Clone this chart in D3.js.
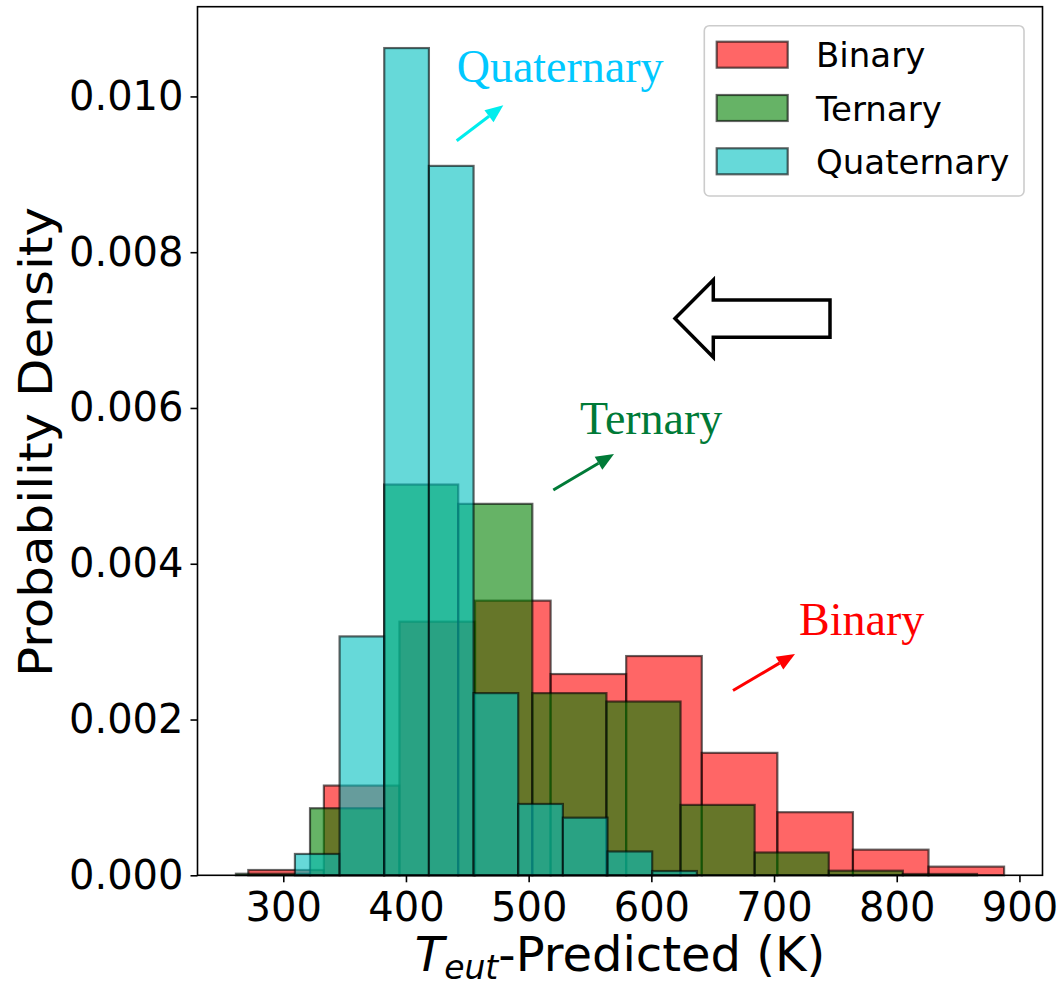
<!DOCTYPE html>
<html>
<head>
<meta charset="utf-8">
<script src="https://cdn.jsdelivr.net/npm/d3@7"></script>
<style>
  body { margin: 0; background: #ffffff; }
  svg { display: block; }
</style>
</head>
<body>
<svg id="chart" width="1059" height="989"></svg>
<script>
// Histogram bin edges (K) and probability densities for each alloy family
const binaryEdges = [271.5, 333.1, 394.7, 456.3, 517.9, 579.5, 641.1, 702.7, 764.3, 825.9, 887.5];
const binaryDensity = [0.000068, 0.001152, 0.003256, 0.003526, 0.002584, 0.002815, 0.001572, 0.00081, 0.000329, 0.000111];

const ternaryEdges = [261.4, 321.8, 382.2, 442.6, 503.0, 563.4, 623.8, 684.2, 744.6, 805.0, 865.4];
const ternaryDensity = [0.00002, 0.000861, 0.005017, 0.004769, 0.002339, 0.002231, 0.000904, 0.000293, 0.000059, 0.000017];

const quaternaryEdges = [309.5, 345.9, 382.3, 418.7, 455.1, 491.5, 527.9, 564.3, 600.7, 637.1];
const quaternaryDensity = [0.000274, 0.003067, 0.010621, 0.009108, 0.002339, 0.000916, 0.00074, 0.000306, 0.000055];

const seriesNames = ["Binary", "Ternary", "Quaternary"];
const xTicks = [300, 400, 500, 600, 700, 800, 900];
const yTicks = [0.000, 0.002, 0.004, 0.006, 0.008, 0.010];

// ---- layout & styling ----
const seriesColors = ["#ff0000", "#008000", "#00bfbf"];
const annotationColors = ["#ff0000", "#007a37", "#00c8ff"];
const arrowColors = ["#ff0000", "#007a37", "#00eded"];
const plot = { left: 197.5, right: 1042.5, top: 6.7, bottom: 875.3 };
const sans = "DejaVu Sans, sans-serif";
const serif = "Liberation Serif, Times New Roman, serif";

const svg = d3.select("#chart");

const allEdges = binaryEdges.concat(ternaryEdges, quaternaryEdges);
const [dMin, dMax] = d3.extent(allEdges);
const pad = (dMax - dMin) * 0.05;
const x = d3.scaleLinear().domain([dMin - pad, dMax + pad]).range([plot.left, plot.right]);
const yMax = d3.max(binaryDensity.concat(ternaryDensity, quaternaryDensity)) * 1.05;
const y = d3.scaleLinear().domain([0, yMax]).range([plot.bottom, plot.top]);

function bins(edges, dens) {
  return dens.map((d, i) => ({ x0: edges[i], x1: edges[i + 1], d }));
}
const series = [
  bins(binaryEdges, binaryDensity),
  bins(ternaryEdges, ternaryDensity),
  bins(quaternaryEdges, quaternaryDensity)
];

// ---- histogram bars (drawn in order, translucent so overlaps blend) ----
series.forEach((data, si) => {
  svg.append("g")
    .selectAll("rect")
    .data(data)
    .join("rect")
    .attr("x", d => x(d.x0))
    .attr("width", d => x(d.x1) - x(d.x0))
    .attr("y", d => y(d.d))
    .attr("height", d => y(0) - y(d.d))
    .attr("fill", seriesColors[si])
    .attr("fill-opacity", 0.6)
    .attr("stroke", "#000")
    .attr("stroke-opacity", 0.6)
    .attr("stroke-width", 2.2);
});

// ---- axes ----
const xAxis = d3.axisBottom(x).tickValues(xTicks).tickSize(7).tickPadding(10).tickSizeOuter(0);
const gx = svg.append("g").attr("transform", `translate(0,${plot.bottom})`).call(xAxis);
const yAxis = d3.axisLeft(y).tickValues(yTicks).tickFormat(d3.format(".3f")).tickSize(7).tickPadding(7).tickSizeOuter(0);
const gy = svg.append("g").attr("transform", `translate(${plot.left},0)`).call(yAxis);
[gx, gy].forEach(g => {
  g.select(".domain").remove();
  g.selectAll(".tick line").attr("stroke", "#000").attr("stroke-width", 1.6);
  g.selectAll(".tick text").attr("fill", "#000").style("font-family", sans).style("font-size", "40px");
});

// frame
svg.append("rect")
  .attr("x", plot.left).attr("y", plot.top)
  .attr("width", plot.right - plot.left).attr("height", plot.bottom - plot.top)
  .attr("fill", "none").attr("stroke", "#000").attr("stroke-width", 1.6);

// axis titles
svg.append("text")
  .attr("transform", `translate(51.5,442) rotate(-90)`)
  .attr("text-anchor", "middle")
  .attr("textLength", 470).attr("lengthAdjust", "spacingAndGlyphs")
  .style("font-family", sans).style("font-size", "46px")
  .text("Probability Density");

const xt = svg.append("text")
  .attr("x", (plot.left + plot.right) / 2).attr("y", 971)
  .attr("text-anchor", "middle")
  .style("font-family", sans).style("font-size", "48px");
xt.append("tspan").style("font-style", "italic").text("T");
xt.append("tspan").style("font-style", "italic").style("font-size", "33px").attr("dy", 8).text("eut");
xt.append("tspan").attr("dy", -8).text("-Predicted (K)");

// ---- legend ----
const legend = svg.append("g");
legend.append("rect")
  .attr("x", 704.3).attr("y", 25.7).attr("width", 319.7).attr("height", 170.3)
  .attr("rx", 5).attr("fill", "#fff").attr("fill-opacity", 0.8)
  .attr("stroke", "#cccccc").attr("stroke-width", 1.6);
seriesNames.forEach((name, i) => {
  const cy = 54.7 + i * 53.3;
  legend.append("rect")
    .attr("x", 716.7).attr("y", cy - 13).attr("width", 71).attr("height", 26)
    .attr("fill", seriesColors[i]).attr("fill-opacity", 0.6)
    .attr("stroke", "#000").attr("stroke-opacity", 0.6).attr("stroke-width", 2.2);
  legend.append("text")
    .attr("x", 816).attr("y", cy + 12.5)
    .style("font-family", sans).style("font-size", "34px")
    .text(name);
});

// ---- callout labels with arrows ----
const callouts = [
  { name: "Binary",     tx: 799,   ty: 635,  x1: 733,   y1: 690.5, x2: 795,   y2: 654 },
  { name: "Ternary",    tx: 580,   ty: 434,  x1: 553.3, y1: 490,   x2: 614,   y2: 454 },
  { name: "Quaternary", tx: 456.7, ty: 81.7, x1: 456.7, y1: 140.7, x2: 503.3, y2: 105.3 }
];
callouts.forEach((c, i) => {
  svg.append("text")
    .attr("x", c.tx).attr("y", c.ty)
    .attr("fill", annotationColors[i])
    .style("font-family", serif).style("font-size", "46px")
    .text(c.name);
  const ang = Math.atan2(c.y2 - c.y1, c.x2 - c.x1);
  const hl = 18, hw = 7.5;
  const bx = c.x2 - hl * Math.cos(ang), by = c.y2 - hl * Math.sin(ang);
  svg.append("line")
    .attr("x1", c.x1).attr("y1", c.y1).attr("x2", bx).attr("y2", by)
    .attr("stroke", arrowColors[i]).attr("stroke-width", 3);
  const px = -Math.sin(ang) * hw, py = Math.cos(ang) * hw;
  svg.append("path")
    .attr("d", `M${c.x2},${c.y2}L${bx + px},${by + py}L${bx - px},${by - py}Z`)
    .attr("fill", arrowColors[i]);
});

// hollow block arrow pointing toward lower temperatures
const blockArrow = [[675, 318.5], [713.3, 280], [713.3, 300], [830, 300], [830, 337.3], [713.3, 337.3], [713.3, 357.3]];
svg.append("path")
  .attr("d", d3.line()(blockArrow) + "Z")
  .attr("fill", "#fff").attr("stroke", "#000").attr("stroke-width", 3.5)
  .attr("stroke-linejoin", "miter");
</script>
</body>
</html>
